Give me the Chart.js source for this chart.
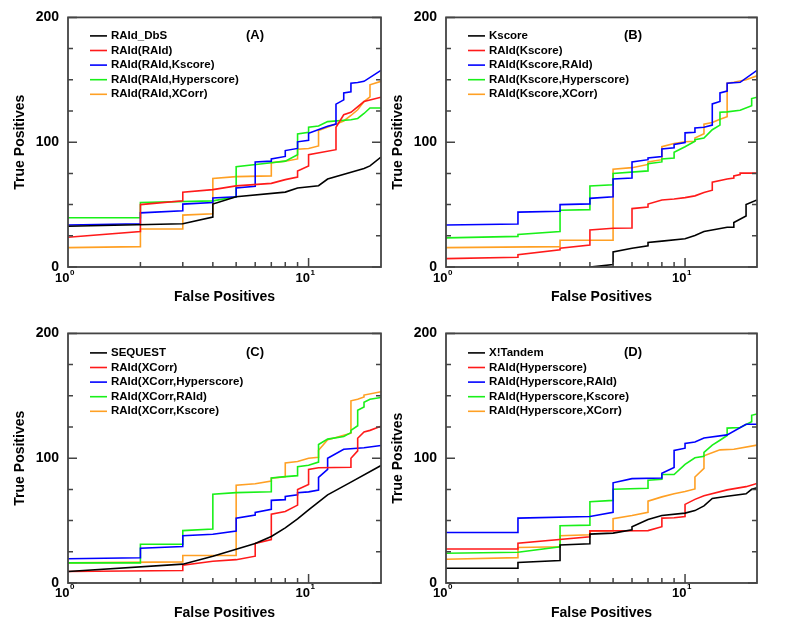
<!DOCTYPE html>
<html>
<head>
<meta charset="utf-8">
<script src="https://cdn.jsdelivr.net/npm/chart.js@4"></script>
<style>
  body { margin: 0; background: #fff; }
  #wrap { position: relative; width: 785px; height: 622px; }
  #wrap canvas { position: absolute; }
</style>
</head>
<body>
<div id="wrap">
  <canvas id="panelA" width="392" height="306" style="left:0;top:0"></canvas>
  <canvas id="panelB" width="407" height="306" style="left:378px;top:0"></canvas>
  <canvas id="panelC" width="392" height="306" style="left:0;top:316px"></canvas>
  <canvas id="panelD" width="407" height="306" style="left:378px;top:316px"></canvas>
</div>
<script>
// tick values
const fpMinor = [2, 3, 4, 5, 6, 7, 8, 9, 10];
const fpLabeled = [1, 10];

// (A) RAId_DbS family  [false positives, true positives]
const labelsA = ['RAId_DbS', 'RAId(RAId)', 'RAId(RAId,Kscore)', 'RAId(RAId,Hyperscore)', 'RAId(RAId,XCorr)'];
const dbsA = [[1,32.6],[3,34.6],[4,40],[4,50.4],[5,56.3],[8,60],[9,63.3],[11,65.1],[12,70.5],[17,79],[18,81],[20,88.1]];
const raidA = [[1,23.8],[2,28.4],[2,50],[3,53],[3,60],[4,62],[5,65],[7,67],[8,70],[9,72],[9,77],[10,81],[10,90],[13,94],[13,112],[14,122],[15,124],[17,132.6],[20,136]];
const kscoreA = [[1,33.6],[2,34.6],[2,43.4],[3,45],[3,50.4],[4,51.7],[4,55.3],[5,56.3],[5,63.3],[6,64.6],[6,84.2],[7,84.8],[7,86.6],[8,88.6],[8,93.3],[9,95],[9,100.3],[10,101.5],[10,107.2],[12,112.7],[13,114.5],[13,130.5],[14,133.9],[14,139.5],[15,140.3],[15,147.3],[16,147.8],[17,148.8],[20,157.6]];
const hyperA = [[1,39.5],[2,39.5],[2,51.7],[4,53],[5,56.3],[5,80.4],[7,83.5],[8,84.8],[9,90],[9,106.7],[10,108],[10,112],[11,113],[12,116.5],[15,118],[16,119],[17,123],[18,127.4],[20,127.4]];
const xcorrA = [[1,15.5],[2,16.3],[2,30.5],[3,30.5],[3,41.6],[4,42.6],[4,71],[5,72.4],[7,73],[7,83.5],[8,84.8],[9,86.6],[9,94.3],[10,95],[11,97],[11,109.3],[13,114.5],[14,117],[15,121.4],[16,126],[17,132.6],[18,136.4],[18,146],[20,148.8]];

// (B) Kscore family
const labelsB = ['Kscore', 'RAId(Kscore)', 'RAId(Kscore,RAId)', 'RAId(Kscore,Hyperscore)', 'RAId(Kscore,XCorr)'];
const kscoreB = [[4,0],[5,2],[5,12],[6,15],[7,17],[7,19.6],[8,20.7],[10,22.7],[11,25.3],[12,28.4],[15,31.8],[16,31.8],[16,35.7],[18,40.8],[18,50],[20,53.7]];
const raidKB = [[1,6.7],[2,7.8],[2,9.8],[3,13.7],[3,15],[4,17.6],[4,29.7],[5,31],[6,31.3],[6,46.8],[7,48],[7,50.4],[8,53.7],[9,54.5],[10,55.6],[11,57],[12,59.7],[13,61.5],[13,68],[15,70.5],[16,71.3],[16,73],[17,74],[17,75.2],[20,75.2]];
const raidB = [[1,33.6],[2,34.4],[2,44],[3,44.7],[3,50],[4,50.6],[4,55],[5,56.3],[5,70.5],[6,71.3],[6,84.2],[7,86],[7,87.3],[8,88.6],[8,94.6],[9,95.6],[9,98.2],[10,99.7],[10,107.5],[11,108],[11,111.4],[12,112],[13,113.7],[13,130.7],[14,132.6],[14,139.5],[15,141],[15,147.3],[17,148],[20,157.6]];
const hyperB = [[1,23.3],[2,24.5],[2,26],[3,28.4],[3,45.5],[4,46],[4,64.9],[5,65.9],[5,75],[7,77],[7,82.7],[8,84.2],[8,86.6],[9,87.3],[9,92],[10,96.4],[11,100.8],[11,102],[12,103.4],[13,110],[14,113.7],[14,124],[15,124.3],[17,125.6],[19,129.2],[19,135],[20,136]];
const xcorrB = [[1,15.5],[3,16.3],[3,21.4],[5,21.4],[5,78.3],[6,79.6],[7,82.2],[7,84.2],[8,86],[8,96.4],[9,99],[10,100.3],[11,100.8],[11,103.4],[12,106.7],[12,114.5],[13,115.8],[14,118.3],[15,120.4],[15,147.3],[16,148],[18,150],[20,153.2]];

// (C) XCorr family
const labelsC = ['SEQUEST', 'RAId(XCorr)', 'RAId(XCorr,Hyperscore)', 'RAId(XCorr,RAId)', 'RAId(XCorr,Kscore)'];
const sequestC = [[1,9.2],[3,15.1],[4,21.5],[5,27.1],[6,31.7],[7,37.3],[8,44.2],[9,51.4],[10,58.6],[12,70.6],[15,80.8],[20,94.1]];
const raidXC = [[1,9.2],[3,10],[3,14.3],[4,17.4],[5,18.7],[6,21.5],[6,31.7],[7,34.8],[7,55.2],[8,57.3],[9,62.4],[9,75],[10,79],[10,91],[11,92.3],[15,92.8],[15,100],[16,105.9],[16,116],[17,121],[18,122.3],[20,125.6]];
const hyperC = [[1,19.4],[2,20.2],[2,27.9],[3,29.2],[3,37.9],[4,39.1],[5,41.7],[5,51.9],[6,54.5],[6,56.5],[7,59],[7,66.2],[8,66.8],[8,69.3],[9,70.6],[9,72.4],[10,73],[11,74.4],[11,84.7],[12,91],[12,100],[14,107.2],[17,108.4],[20,110.2]];
const raidC = [[1,16.1],[2,16.1],[2,31],[3,31],[3,42],[4,43.2],[4,71.1],[5,72.4],[7,73.1],[7,84.1],[8,85.2],[9,86],[9,93.1],[10,94.4],[11,96.9],[11,111],[12,115.3],[14,117.4],[15,120.5],[15,122.3],[16,126],[16,138.4],[17,141],[17,144.8],[18,147.3],[20,148.6]];
const kscoreC = [[1,16.1],[3,16.9],[3,22],[5,22],[5,78.3],[6,79.5],[7,81.6],[7,83.9],[8,85.2],[8,96.2],[9,97.4],[10,100],[11,100.8],[11,106.4],[12,114.8],[13,116.6],[14,118.4],[15,120],[15,146],[16,147.3],[17,149],[17,150.6],[20,153.2]];

// (D) Hyperscore family
const labelsD = ['X!Tandem', 'RAId(Hyperscore)', 'RAId(Hyperscore,RAId)', 'RAId(Hyperscore,Kscore)', 'RAId(Hyperscore,XCorr)'];
const tandemD = [[1,11.8],[2,11.8],[2,16.4],[3,18],[3,30.5],[4,31.5],[4,39.2],[5,40],[6,42.6],[6,45],[7,50.8],[8,54.1],[10,56],[11,58],[12,61.8],[13,67.7],[15,69.5],[18,71.5],[19,75.1],[20,76.4]];
const raidHD = [[1,27.2],[2,27.2],[2,31.8],[4,37],[4,41.8],[7,42],[8,45.1],[8,52],[9,52.3],[10,53.3],[10,63],[11,67],[12,70],[15,74.6],[18,77.2],[20,79.7]];
const raidD = [[1,40.5],[2,40.5],[2,52],[4,53.3],[5,56.7],[5,80.3],[6,83.6],[8,84.1],[8,88],[9,92.6],[9,106.2],[10,108],[10,111.8],[11,113],[12,116.2],[15,118.7],[18,127.2],[20,127.2]];
const kscoreD = [[1,23.8],[2,24.6],[3,29],[3,45.9],[4,46.4],[4,65.1],[5,66.2],[5,75.1],[7,75.9],[7,82.3],[8,83.1],[8,86.9],[9,86.9],[10,95.1],[11,100.3],[12,101.5],[12,104.6],[13,110.5],[14,114.4],[15,118.2],[15,124.1],[17,124.6],[19,129.2],[19,134.4],[20,135.4]];
const xcorrD = [[1,19],[2,20.3],[2,28.5],[3,29],[3,37.9],[4,38.7],[4,41.8],[5,42],[5,51.5],[6,54.1],[7,56.7],[7,65.6],[8,69],[9,71.5],[10,73.3],[11,75.4],[11,84.9],[12,91.8],[12,102],[14,106.7],[16,107.2],[20,110.5]];

const lineColors = ['#000000', '#ff1a1a', '#0000ff', '#19f019', '#ffa024'];
const FONT = '"Liberation Sans", Arial, sans-serif';

// frame, inward ticks, 10^n labels, legend and panel tag
const panelDecor = {
  id: 'panelDecor',
  afterDraw(chart, args, opts) {
    const { ctx, chartArea: a, scales: { x, y } } = chart;
    ctx.save();
    ctx.strokeStyle = '#444';
    ctx.lineWidth = 1.5;
    ctx.beginPath();
    y.ticks.forEach(t => {
      const py = y.getPixelForValue(t.value);
      const len = t.value % 100 === 0 ? 9 : 5;
      ctx.moveTo(a.left, py); ctx.lineTo(a.left + len, py);
      ctx.moveTo(a.right, py); ctx.lineTo(a.right - len, py);
    });
    fpMinor.forEach(v => {
      const px = x.getPixelForValue(v);
      const len = v === 10 ? 9 : 5;
      ctx.moveTo(px, a.bottom); ctx.lineTo(px, a.bottom - len);
    });
    ctx.stroke();
    ctx.lineWidth = 1.8;
    ctx.strokeRect(a.left, a.top, a.right - a.left, a.bottom - a.top);

    // 10^n tick labels
    ctx.fillStyle = '#000';
    fpLabeled.forEach(v => {
      const px = x.getPixelForValue(v);
      ctx.font = 'bold 13px ' + FONT;
      ctx.textAlign = 'right';
      ctx.textBaseline = 'middle';
      ctx.fillText('10', px + 1.5, a.bottom + opts.labelDy);
      ctx.font = 'bold 8px ' + FONT;
      ctx.textAlign = 'left';
      ctx.fillText(String(Math.round(Math.log10(v))), px + 2, a.bottom + opts.labelDy - 6);
    });

    // legend
    ctx.font = 'bold 11.5px ' + FONT;
    ctx.textAlign = 'left';
    ctx.textBaseline = 'middle';
    chart.data.datasets.forEach((ds, i) => {
      const ly = a.top + opts.legendTop + i * 14.6;
      ctx.strokeStyle = ds.borderColor;
      ctx.lineWidth = 1.6;
      ctx.beginPath();
      ctx.moveTo(a.left + 22, ly); ctx.lineTo(a.left + 39, ly);
      ctx.stroke();
      ctx.fillStyle = '#000';
      ctx.fillText(ds.label, a.left + 43, ly);
    });
    ctx.font = 'bold 13px ' + FONT;
    ctx.textAlign = 'center';
    ctx.fillText(opts.tag, a.left + 187, a.top + opts.legendTop);
    ctx.restore();
  }
};

function makePanel(id, tag, labels, series, yTitle, padTop, padRight, labelDy, legendTop) {
  new Chart(document.getElementById(id), {
    type: 'line',
    data: {
      datasets: series.map((s, i) => ({
        label: labels[i],
        data: s.map(p => ({ x: p[0], y: p[1] })),
        borderColor: lineColors[i],
        borderWidth: 1.6,
        pointRadius: 0,
        tension: 0,
        fill: false
      }))
    },
    options: {
      responsive: false,
      animation: false,
      layout: { padding: { top: padTop, right: padRight, left: 0, bottom: 0 } },
      plugins: {
        legend: { display: false },
        tooltip: { enabled: false },
        panelDecor: { tag: tag, labelDy: labelDy, legendTop: legendTop }
      },
      scales: {
        x: {
          type: 'logarithmic',
          min: 1,
          max: 20,
          grid: { display: false, drawTicks: false },
          border: { display: false },
          ticks: { display: false },
          title: {
            display: true,
            text: 'False Positives',
            color: '#000',
            font: { family: FONT, size: 14, weight: 'bold' },
            padding: { top: 0, bottom: 0 }
          },
          afterFit: s => { s.height = 39; }
        },
        y: {
          min: 0,
          max: 200,
          grid: { display: false, drawTicks: false },
          border: { display: false },
          ticks: {
            stepSize: 25,
            padding: 9,
            color: '#000',
            font: { family: FONT, size: 14, weight: 'bold' },
            callback: v => (v % 100 === 0 ? String(v) : '')
          },
          title: {
            display: true,
            text: yTitle,
            color: '#000',
            font: { family: FONT, size: 14, weight: 'bold' },
            padding: { top: 11.5, bottom: 0 }
          },
          afterFit: s => { s.width = 68; }
        }
      }
    },
    plugins: [panelDecor]
  });
}

makePanel('panelA', '(A)', labelsA, [dbsA, raidA, kscoreA, hyperA, xcorrA], 'True Positives', 7, 11, 11.5, 18.5);
makePanel('panelB', '(B)', labelsB, [kscoreB, raidKB, raidB, hyperB, xcorrB], 'True Positives', 7, 28, 11.5, 18.5);
makePanel('panelC', '(C)', labelsC, [sequestC, raidXC, hyperC, raidC, kscoreC], 'True Positives', 6, 11, 10, 19.5);
makePanel('panelD', '(D)', labelsD, [tandemD, raidHD, raidD, kscoreD, xcorrD], 'True Positves', 6, 28, 10, 19.5);
</script>
</body>
</html>
